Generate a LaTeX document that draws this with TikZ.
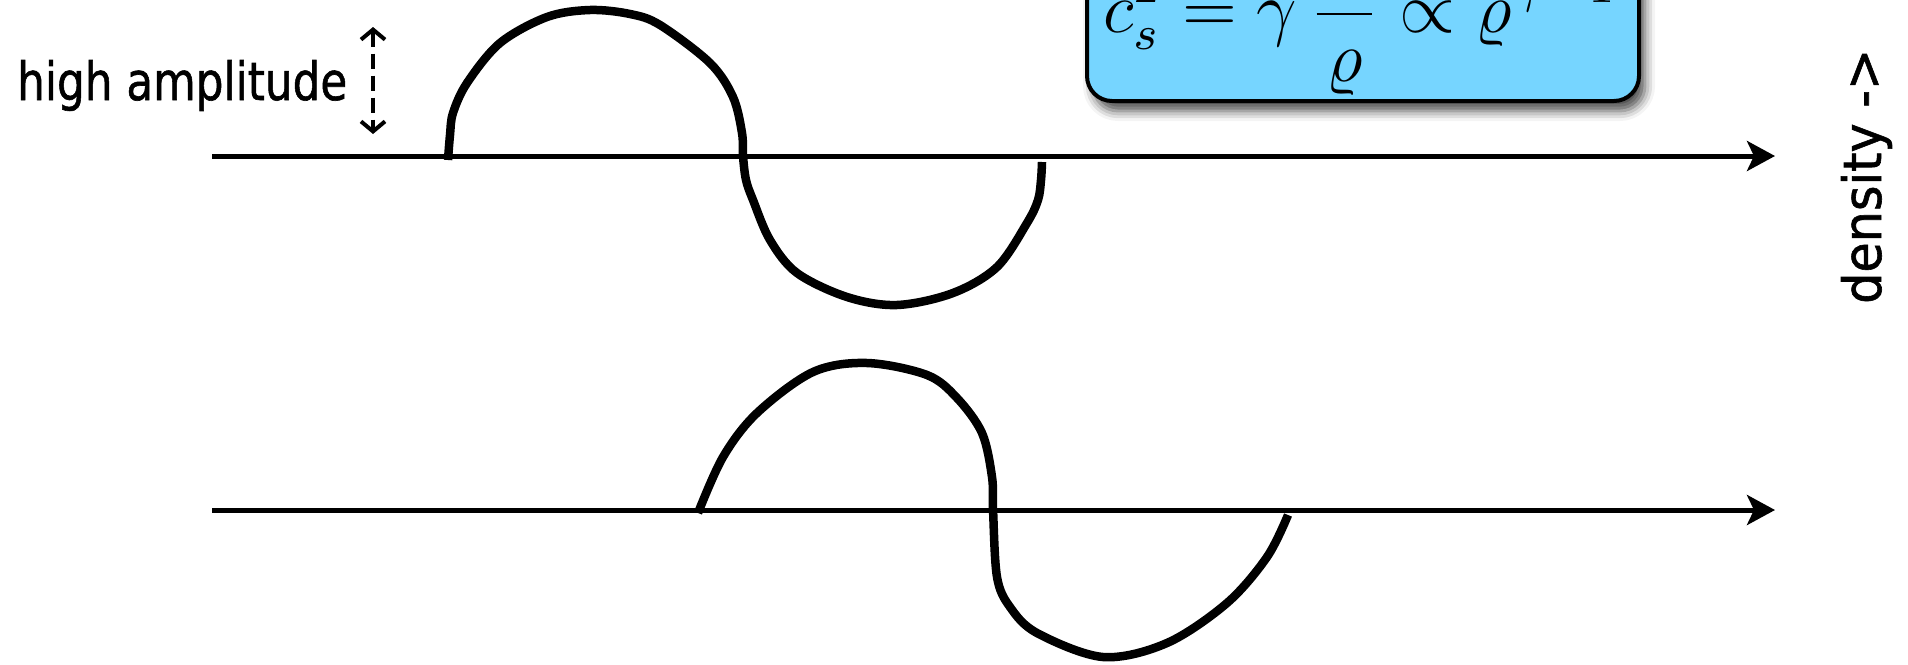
\documentclass[tikz,border=0pt]{standalone}
\usepackage{fontspec}
\newfontfamily\hand[FakeBold=1.2]{DejaVu Sans}
\usetikzlibrary{arrows.meta,shadows.blur}
\definecolor{eqblue}{RGB}{118,213,255}
\tikzset{
  axisline/.style={line width=5pt, -{Stealth[length=28pt,width=30pt,inset=7pt]}},
  wave/.style={line width=8.5pt, line join=round},
  ampline/.style={line width=4pt, dash pattern=on 15pt off 7pt,
    {Straight Barb[length=10pt,width=24pt]}-{Straight Barb[length=10pt,width=24pt]}},
  eqbox/.style={draw=black, line width=4pt, fill=eqblue, rounded corners=25pt,
    blur shadow={shadow xshift=6pt, shadow yshift=-10pt, shadow blur radius=10pt, shadow opacity=70}},
  handtext/.style={inner sep=0pt, font=\hand},
}
\begin{document}
\begin{tikzpicture}[x=1pt,y=-1pt]
\useasboundingbox (0,0) rectangle (1908,664);
\clip (0,0) rectangle (1908,664);
% formula box
\node[eqbox, minimum width=552pt, minimum height=250pt, anchor=south west, inner sep=0pt] (box) at (1085,103) {};
\node[inner sep=0pt, anchor=base west] (eq) at (1103,32)
  {\scalebox{6.0}{\fontsize{12}{14}\selectfont$\displaystyle c_s^2=\gamma\,\frac{P}{\varrho}\propto\varrho^{\gamma\,-1}$}};
% axes
\coordinate (a1s) at (212,156);
\coordinate (a1e) at (1775,156);
\coordinate (a2s) at (212,510);
\coordinate (a2e) at (1775,510);
\draw[axisline] (a1s) -- (a1e);
\draw[axisline] (a2s) -- (a2e);
% waves
\draw[wave] plot[smooth, tension=0.55] coordinates {(448,160) (450,135) (453,113) (467,83) (500,43) (547,17) (590,10) (630,14) (660,25) (710,63) (733,97) (742,133) (743,156) (746,180) (753,200) (770,240) (797,273) (847,297) (897,305) (953,293) (997,267) (1027,223) (1038,200) (1041,180) (1042,162)};
\draw[wave] plot[smooth, tension=0.55] coordinates {(698,513) (723,457) (757,413) (813,372) (867,363) (927,375) (957,398) (982,433) (992,477) (993,509) (997,577) (1010,607) (1037,633) (1103,657) (1167,643) (1227,603) (1267,557) (1288,515)};
% amplitude
\coordinate (ampTop) at (373,27);
\coordinate (ampBot) at (373,134);
\draw[ampline] (ampTop) -- (ampBot);
\node[handtext, anchor=base west] (amp) at (17,100) {\resizebox{330pt}{40pt}{high amplitude}};
\node[handtext, rotate=90, anchor=base west] (dens) at (1881,304) {\resizebox{255pt}{40pt}{density -{}>}};
\end{tikzpicture}
\end{document}
